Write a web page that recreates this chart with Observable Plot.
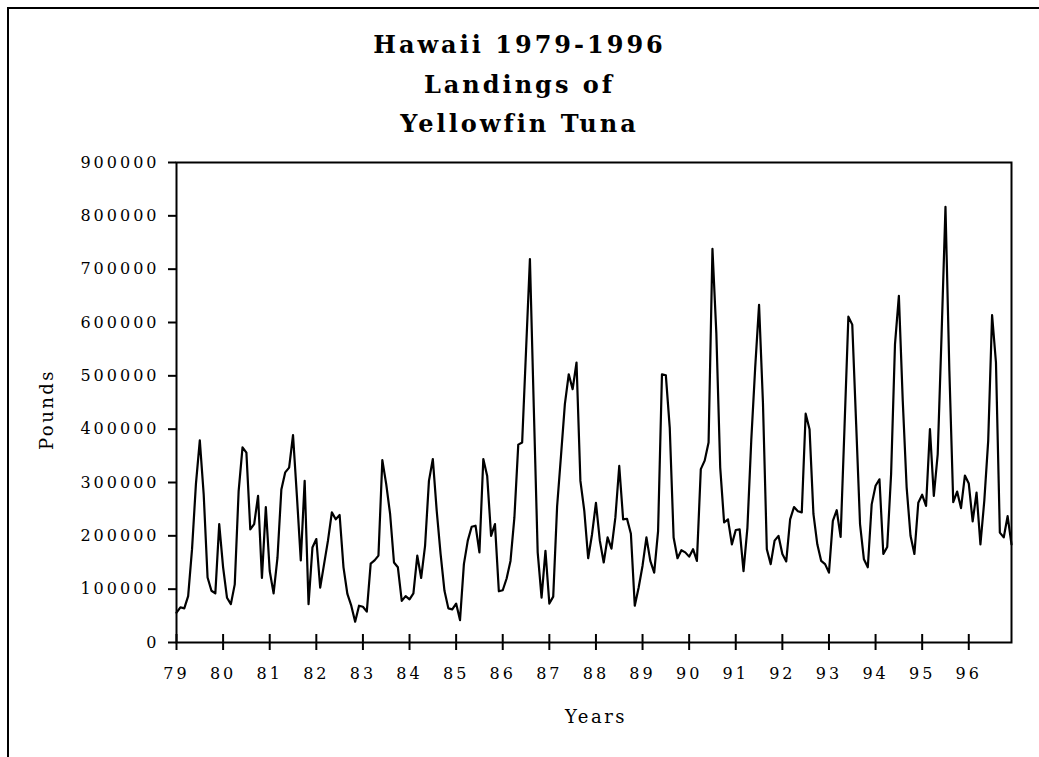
<!DOCTYPE html>
<html><head><meta charset="utf-8">
<script src="https://cdn.jsdelivr.net/npm/d3@7"></script>
<script src="https://cdn.jsdelivr.net/npm/@observablehq/plot@0.6"></script>
<style>
html,body{margin:0;padding:0;background:#fff;width:1039px;height:757px;overflow:hidden;position:relative}
#frame{position:absolute;left:7px;top:7px;width:1100px;height:800px;border:2px solid #000;box-sizing:border-box;z-index:5;pointer-events:none}
#title{position:absolute;left:0;top:25px;width:1039px;text-align:center;font-family:"DejaVu Serif";font-weight:bold;font-size:24px;letter-spacing:3px;line-height:39.5px;color:#000}
#chart{position:absolute;left:0;top:144px}
#chart svg{letter-spacing:3px}
#chart svg g[aria-label="text"] text{letter-spacing:2.5px}
</style></head>
<body>
<div id="frame"></div>
<div id="title">Hawaii 1979-1996<br>Landings of<br>Yellowfin Tuna</div>
<div id="chart"></div>
<script>
const startYear = 79;
const yearTicks = [79,80,81,82,83,84,85,86,87,88,89,90,91,92,93,94,95,96];
const poundTicks = [0,100000,200000,300000,400000,500000,600000,700000,800000,900000];
const yLabel = "Pounds";
const xLabel = "Years";

const y1979 = [56000, 66000, 64000, 87000, 175000, 297000, 379000, 278000, 122000, 97000, 92000, 222000];
const y1980 = [141000, 84000, 72000, 109000, 284000, 366000, 356000, 212000, 222000, 275000, 121000, 254000];
const y1981 = [134000, 92000, 159000, 287000, 319000, 328000, 389000, 275000, 154000, 303000, 72000, 178000];
const y1982 = [194000, 103000, 147000, 191000, 244000, 231000, 239000, 141000, 91000, 69000, 39000, 69000];
const y1983 = [67000, 58000, 148000, 154000, 163000, 342000, 297000, 241000, 150000, 141000, 78000, 87000];
const y1984 = [81000, 92000, 163000, 121000, 181000, 303000, 344000, 247000, 166000, 97000, 64000, 62000];
const y1985 = [73000, 42000, 147000, 191000, 217000, 219000, 169000, 344000, 312000, 200000, 222000, 96000];
const y1986 = [98000, 120000, 153000, 234000, 371000, 375000, 547000, 719000, 440000, 169000, 84000, 172000];
const y1987 = [73000, 86000, 255000, 350000, 447000, 503000, 475000, 525000, 303000, 247000, 158000, 203000];
const y1988 = [262000, 191000, 150000, 197000, 176000, 234000, 331000, 231000, 232000, 204000, 69000, 103000];
const y1989 = [144000, 197000, 153000, 131000, 209000, 503000, 501000, 403000, 197000, 158000, 173000, 169000];
const y1990 = [161000, 175000, 153000, 325000, 341000, 375000, 738000, 580000, 328000, 225000, 231000, 184000];
const y1991 = [211000, 212000, 134000, 215000, 380000, 515000, 633000, 450000, 175000, 147000, 191000, 200000];
const y1992 = [166000, 152000, 231000, 254000, 246000, 244000, 429000, 400000, 241000, 184000, 153000, 147000];
const y1993 = [131000, 228000, 248000, 198000, 403000, 611000, 596000, 410000, 222000, 156000, 141000, 259000];
const y1994 = [294000, 306000, 166000, 179000, 316000, 559000, 650000, 453000, 291000, 200000, 166000, 262000];
const y1995 = [277000, 256000, 400000, 275000, 353000, 578000, 817000, 510000, 263000, 283000, 252000, 313000];
const y1996 = [298000, 227000, 281000, 184000, 266000, 378000, 614000, 525000, 206000, 197000, 237000, 184000];

const monthly = [].concat(y1979,y1980,y1981,y1982,y1983,y1984,y1985,y1986,y1987,y1988,y1989,y1990,y1991,y1992,y1993,y1994,y1995,y1996);
const data = monthly.map((v, i) => ({t: startYear + i / 12, v}));

const W = 1039, H = 613, mT = 18, mB = 115;
const plotH = H - mT - mB;

const chart = Plot.plot({
  width: W, height: H,
  marginLeft: 176, marginRight: W - 1011, marginTop: mT, marginBottom: mB,
  x: {domain: [startYear, startYear + (monthly.length - 1) / 12]},
  y: {domain: [0, 900000]},
  style: {fontFamily: "DejaVu Serif", fontSize: "16px", background: "transparent", color: "black"},
  marks: [
    Plot.axisY({ticks: poundTicks, tickSize: 8, tickPadding: 9, strokeWidth: 2, tickFormat: d => String(d), label: null, fontSize: 16}),
    Plot.axisX({ticks: yearTicks, tickSize: 0, tickPadding: 25, tickFormat: d => String(d), label: null, fontSize: 16}),
    Plot.ruleX(yearTicks, {x: d => d, insetTop: plotH - 8, insetBottom: -8, stroke: "black", strokeWidth: 2}),
    Plot.frame({stroke: "black", strokeWidth: 2}),
    Plot.line(data, {x: "t", y: "v", stroke: "black", strokeWidth: 2.2}),
    Plot.text([yLabel], {text: d => d, frameAnchor: "left", textAnchor: "middle", lineAnchor: "middle", dx: -129, dy: 7, rotate: -90, fontSize: 18, fill: "black"}),
    Plot.text([xLabel], {text: d => d, frameAnchor: "bottom", textAnchor: "middle", lineAnchor: "middle", dx: 2, dy: 75, fontSize: 18, fill: "black"})
  ]
});
document.getElementById("chart").appendChild(chart);
</script>
</body></html>
